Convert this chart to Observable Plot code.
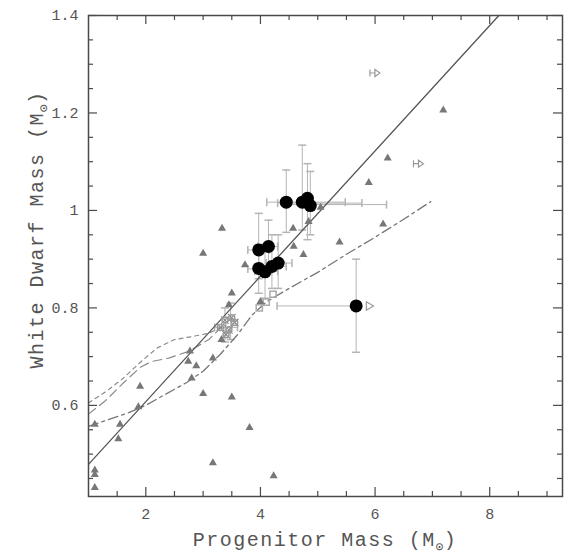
<!DOCTYPE html>
<html><head><meta charset="utf-8">
<script src="https://cdn.jsdelivr.net/npm/d3@7"></script>
<script src="https://cdn.jsdelivr.net/npm/@observablehq/plot@0.6"></script>
<style>body{margin:0;background:#fff} svg{display:block}</style>
</head><body><div id="chart"></div>
<script>
// ---- tick values / labels ----
const xMajorTicks = [2, 4, 6, 8];
const xMinorTicks = [1.5, 2.5, 3, 3.5, 4.5, 5, 5.5, 6.5, 7, 7.5, 8.5, 9];
const yMajorTicks = [0.6, 0.8, 1, 1.2, 1.4];
const yTickLabels = ["0.6", "0.8", "1", "1.2", "1.4"];
const yMinorTicks = [0.45, 0.5, 0.55, 0.65, 0.7, 0.75, 0.85, 0.9, 0.95, 1.05, 1.1, 1.15, 1.25, 1.3, 1.35];

// ---- relations (progenitor mass, WD mass) ----
const linearFit = [[1.0, 0.479], [8.16, 1.4]];
const dashDotModel = [[1.0, 0.557], [1.3, 0.569], [1.7, 0.585], [2.0, 0.6], [2.3, 0.62], [2.7, 0.646], [3.0, 0.67], [3.3, 0.705], [3.6, 0.745], [3.85, 0.785], [4.1, 0.812], [4.5, 0.84], [5.0, 0.873], [5.5, 0.91], [6.0, 0.945], [6.5, 0.982], [6.97, 1.018]];
const shortDashModel = [[1.0, 0.605], [1.3, 0.628], [1.6, 0.655], [1.9, 0.688], [2.2, 0.718], [2.5, 0.735], [2.8, 0.741], [3.1, 0.748], [3.4, 0.765]];
const longDashModel = [[1.0, 0.582], [1.3, 0.61], [1.6, 0.645], [1.9, 0.678], [2.1, 0.69], [2.4, 0.697], [2.75, 0.711], [3.1, 0.735], [3.4, 0.77]];

// ---- field / other cluster white dwarfs (gray triangles) ----
const triangleWDs = [[1.11, 0.561], [1.11, 0.467], [1.11, 0.458], [1.11, 0.431], [1.55, 0.561], [1.52, 0.531], [1.9, 0.639], [1.87, 0.597], [2.74, 0.69], [2.88, 0.681], [2.8, 0.656], [3.0, 0.624], [3.17, 0.697], [3.17, 0.482], [3.5, 0.617], [3.81, 0.554], [4.23, 0.455], [3.0, 0.912], [3.33, 0.963], [3.5, 0.83], [3.45, 0.806], [3.32, 0.735], [3.73, 0.888], [4.0, 0.813], [4.57, 0.963], [4.58, 0.926], [4.75, 0.909], [4.84, 0.977], [5.05, 1.006], [5.38, 0.935], [5.89, 1.057], [6.14, 0.972], [6.22, 1.107], [7.19, 1.206], [2.77, 0.711]];

// ---- this work (black circles) ----
const circleWDs = [[3.97, 0.919], [4.14, 0.926], [3.97, 0.881], [4.08, 0.874], [4.2, 0.885], [4.31, 0.892], [4.45, 1.017], [4.73, 1.017], [4.82, 1.025], [4.87, 1.01], [5.67, 0.804]];
const verticalErrors = [[3.97, 0.86, 0.994], [4.14, 0.87, 0.98], [3.97, 0.83, 0.93], [4.08, 0.82, 0.93], [4.2, 0.84, 0.95], [4.31, 0.84, 0.95], [4.45, 0.955, 1.083], [4.73, 0.96, 1.134], [4.82, 0.94, 1.096], [4.87, 0.95, 1.08], [5.67, 0.709, 0.9], [3.38, 0.73, 0.8], [3.48, 0.735, 0.81]];
const horizontalErrors = [[1.017, 4.11, 5.48], [1.015, 4.3, 5.77], [1.012, 4.45, 6.2], [0.804, 4.29, 5.67], [0.919, 3.78, 4.15], [0.926, 3.95, 4.3], [0.88, 3.78, 4.2], [0.875, 3.9, 4.3], [0.885, 4.0, 4.45], [0.892, 4.1, 4.55], [0.76, 3.2, 3.6]];
const lowerLimits = [[5.91, 1.282], [6.67, 1.096]];
const limitHeads = [[5.9, 0.804]];
const grayCluster = [[3.3, 0.76], [3.38, 0.775], [3.45, 0.755], [3.5, 0.78], [3.4, 0.745], [3.55, 0.77]];
const openSymbols = [[3.98, 0.8], [4.1, 0.812], [4.22, 0.828]];

// ---- custom symbols (pixel-sized) ----
const rOf = s => Math.sqrt(s / Math.PI);
const hCap = {draw(c, s) { const r = rOf(s); c.moveTo(-r, 0); c.lineTo(r, 0); }};
const vCap = {draw(c, s) { const r = rOf(s); c.moveTo(0, -r); c.lineTo(0, r); }};
const limitSym = {draw(c, s) { const r = rOf(s); c.moveTo(0, -r * 0.7); c.lineTo(0, r * 0.7); c.moveTo(0, 0); c.lineTo(r, 0); c.moveTo(r, -r * 0.7); c.lineTo(r * 2, 0); c.lineTo(r, r * 0.7); c.closePath(); }};
const headSym = {draw(c, s) { const r = rOf(s); c.moveTo(-r * 0.5, -r * 0.7); c.lineTo(r * 0.7, 0); c.lineTo(-r * 0.5, r * 0.7); c.closePath(); }};

const W = 569, H = 560, mL = 88, mR = 7, mT = 15, mB = 64;
const innerW = W - mL - mR, innerH = H - mT - mB;
const frameColor = "#4a4a4a";
const errColor = "#b4b4b4";

const plot = Plot.plot({
  width: W, height: H,
  marginLeft: mL, marginRight: mR, marginTop: mT, marginBottom: mB,
  x: {domain: [1, 9.27], label: null},
  y: {domain: [0.413, 1.4], label: null},
  style: {fontFamily: "Liberation Mono, DejaVu Sans Mono, monospace", fontSize: "15px", color: "#555", background: "#fff"},
  marks: [
    Plot.axisX(xMajorTicks, {anchor: "bottom", tickSize: 0, tickPadding: 12, label: null}),
    Plot.axisY(yMajorTicks, {anchor: "left", tickSize: 0, tickPadding: 10, label: null, tickFormat: (d, i) => yTickLabels[i]}),
    // error bars
    Plot.ruleY(horizontalErrors, {y: d => d[0], x1: d => d[1], x2: d => d[2], stroke: errColor, strokeWidth: 1}),
    Plot.ruleX(verticalErrors, {x: d => d[0], y1: d => d[1], y2: d => d[2], stroke: errColor, strokeWidth: 1}),
    Plot.dot(verticalErrors, {x: d => d[0], y: d => d[1], symbol: hCap, r: 4, stroke: errColor, fill: "none"}),
    Plot.dot(verticalErrors, {x: d => d[0], y: d => d[2], symbol: hCap, r: 4, stroke: errColor, fill: "none"}),
    Plot.dot(horizontalErrors, {x: d => d[1], y: d => d[0], symbol: vCap, r: 4, stroke: errColor, fill: "none"}),
    Plot.dot(horizontalErrors, {x: d => d[2], y: d => d[0], symbol: vCap, r: 4, stroke: errColor, fill: "none"}),
    // model / fit lines
    Plot.line(shortDashModel, {x: d => d[0], y: d => d[1], stroke: "#8a8a8a", strokeWidth: 1.2, strokeDasharray: "4,4"}),
    Plot.line(longDashModel, {x: d => d[0], y: d => d[1], stroke: "#8a8a8a", strokeWidth: 1.2, strokeDasharray: "9,5"}),
    Plot.line(dashDotModel, {x: d => d[0], y: d => d[1], stroke: "#777", strokeWidth: 1.3, strokeDasharray: "10,4,3,4"}),
    Plot.line(linearFit, {x: d => d[0], y: d => d[1], stroke: "#555", strokeWidth: 1.3}),
    // gray symbols
    Plot.dot(grayCluster, {x: d => d[0], y: d => d[1], symbol: "times", r: 3.5, stroke: "#8c8c8c", strokeWidth: 1.2}),
    Plot.dot(grayCluster, {x: d => d[0], y: d => d[1], symbol: "circle", r: 3, stroke: "#9a9a9a", fill: "none"}),
    Plot.dot(openSymbols, {x: d => d[0], y: d => d[1], symbol: "square", r: 3.5, stroke: "#aaa", fill: "none"}),
    Plot.dot(triangleWDs, {x: d => d[0], y: d => d[1], symbol: "triangle", r: 3, fill: "#777", stroke: "none"}),
    Plot.dot(lowerLimits, {x: d => d[0], y: d => d[1], symbol: limitSym, r: 5, stroke: "#999", strokeWidth: 1.2, fill: "none"}),
    Plot.dot(limitHeads, {x: d => d[0], y: d => d[1], symbol: headSym, r: 6, stroke: "#999", strokeWidth: 1.2, fill: "none"}),
    Plot.dot(circleWDs, {x: d => d[0], y: d => d[1], r: 6.5, fill: "#000", stroke: "none"}),
    // inward ticks on all four sides
    Plot.tickX(xMajorTicks, {x: d => d, insetTop: innerH - 9, stroke: frameColor, strokeWidth: 1.2}),
    Plot.tickX(xMinorTicks, {x: d => d, insetTop: innerH - 5, stroke: frameColor, strokeWidth: 1.2}),
    Plot.tickX(xMajorTicks, {x: d => d, insetBottom: innerH - 9, stroke: frameColor, strokeWidth: 1.2}),
    Plot.tickX(xMinorTicks, {x: d => d, insetBottom: innerH - 5, stroke: frameColor, strokeWidth: 1.2}),
    Plot.tickY(yMajorTicks, {y: d => d, insetRight: innerW - 9, stroke: frameColor, strokeWidth: 1.2}),
    Plot.tickY(yMinorTicks, {y: d => d, insetRight: innerW - 5, stroke: frameColor, strokeWidth: 1.2}),
    Plot.tickY(yMajorTicks, {y: d => d, insetLeft: innerW - 9, stroke: frameColor, strokeWidth: 1.2}),
    Plot.tickY(yMinorTicks, {y: d => d, insetLeft: innerW - 5, stroke: frameColor, strokeWidth: 1.2}),
    Plot.frame({stroke: frameColor, strokeWidth: 1.5})
  ]
});

// axis titles with subscript solar symbol
const svg = d3.select(plot);
const xr = plot.scale("x").range, yr = plot.scale("y").range;
const titleStyle = t => t.attr("fill", "#555").attr("font-family", "Liberation Mono, DejaVu Sans Mono, monospace")
  .attr("font-size", 20).attr("letter-spacing", 1.5).attr("text-anchor", "middle");
function addTitle(t, main) {
  t.append("tspan").text(main);
  t.append("tspan").attr("font-size", 13).attr("dy", 5).attr("letter-spacing", 0).text("\u2299");
  t.append("tspan").attr("dy", -5).text(")");
}
const xt = svg.append("text").attr("x", (xr[0] + xr[1]) / 2).attr("y", 546);
titleStyle(xt); addTitle(xt, "Progenitor Mass (M");
const yt = svg.append("text").attr("transform", `translate(43,${(yr[0] + yr[1]) / 2 - 26}) rotate(-90)`);
titleStyle(yt); addTitle(yt, "White Dwarf Mass (M");

document.getElementById("chart").append(plot);
</script></body></html>
